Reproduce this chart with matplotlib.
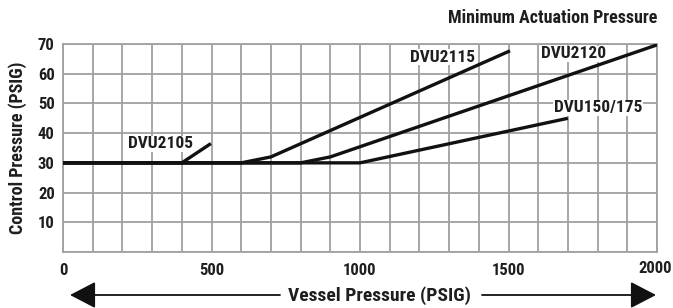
import matplotlib
matplotlib.use("Agg")
from matplotlib import pyplot as plt
from matplotlib import transforms
from matplotlib.patches import FancyArrowPatch

# series
dvu2105_x = [0, 400, 498]
dvu2105_y = [30, 30, 36.5]
dvu2115_x = [0, 600, 700, 1505]
dvu2115_y = [30, 30, 32, 67.7]
dvu2120_x = [0, 800, 900, 2000]
dvu2120_y = [30, 30, 32, 69.7]
dvu150_x = [0, 1000, 1700]
dvu150_y = [30, 30, 45]

labels = ["DVU2105", "DVU2115", "DVU2120", "DVU150/175"]
label_x = [327, 1279, 1720, 1802]
label_y = [36.4, 65.6, 66.7, 48.5]

x_ticks = [0, 500, 1000, 1500, 2000]
y_ticks = [10, 20, 30, 40, 50, 60, 70]

plt.rcParams["font.family"] = ["Roboto Condensed", "DejaVu Sans"]
plt.rcParams["font.weight"] = "bold"
plt.rcParams["axes.labelweight"] = "bold"
ink = "#1e1e1e"

fig = plt.figure(figsize=(6.73, 3.08), dpi=100)
ax = fig.add_axes([63 / 673, 1 - 252 / 308, 594 / 673, 208 / 308])

for xs, ys in [(dvu2105_x, dvu2105_y), (dvu2115_x, dvu2115_y),
               (dvu2120_x, dvu2120_y), (dvu150_x, dvu150_y)]:
    ax.plot(xs, ys, color="#111111", lw=2.4, solid_capstyle="butt", zorder=3)

for t, lx, ly in zip(labels, label_x, label_y):
    ax.text(lx, ly, t, ha="center", va="center", fontsize=12.5, color=ink,
            bbox=dict(facecolor="white", edgecolor="none", pad=0.5), zorder=2.5)

ax.set_xlim(0, 2000)
ax.set_ylim(0, 70)
ax.set_xticks(range(0, 2001, 100))
ax.set_yticks(range(0, 71, 10))
ax.set_axisbelow(True)
ax.grid(True, color="#a0a0a0", lw=1.3)
ax.tick_params(length=0, labelsize=12, colors=ink)
ax.tick_params(axis="x", pad=8)
ax.tick_params(axis="y", pad=6)
ax.set_xticklabels([str(v) if v in x_ticks else "" for v in range(0, 2001, 100)])
ax.set_yticklabels([str(v) if v in y_ticks else "" for v in range(0, 71, 10)])
# last x label sits a bit higher and left in the reference
last = ax.get_xticklabels()[-1]
last.set_transform(last.get_transform() + transforms.ScaledTranslation(-2 / 100, 2 / 100, fig.dpi_scale_trans))
for s in ax.spines.values():
    s.set_color("#a0a0a0")
    s.set_linewidth(1.3)
ax.set_ylabel("Control Pressure (PSIG)", fontsize=13, color=ink, labelpad=8)

fig.text(657 / 673, 1 - 18 / 308, "Minimum Actuation Pressure", ha="right", va="center",
         fontsize=13, color=ink)
fig.text(379 / 673, 1 - 296 / 308, "Vessel Pressure (PSIG)", ha="center", va="center",
         fontsize=14, color=ink)
ay = 1 - 295 / 308
for a, b in [((280 / 673, ay), (70 / 673, ay)), ((482 / 673, ay), (656 / 673, ay))]:
    fig.add_artist(FancyArrowPatch(a, b, transform=fig.transFigure,
                                   arrowstyle="-|>,head_length=5,head_width=2.6",
                                   mutation_scale=3.2, color="#111111", lw=1.3,
                                   shrinkA=0, shrinkB=0))

fig.savefig("out.png", dpi=100)
